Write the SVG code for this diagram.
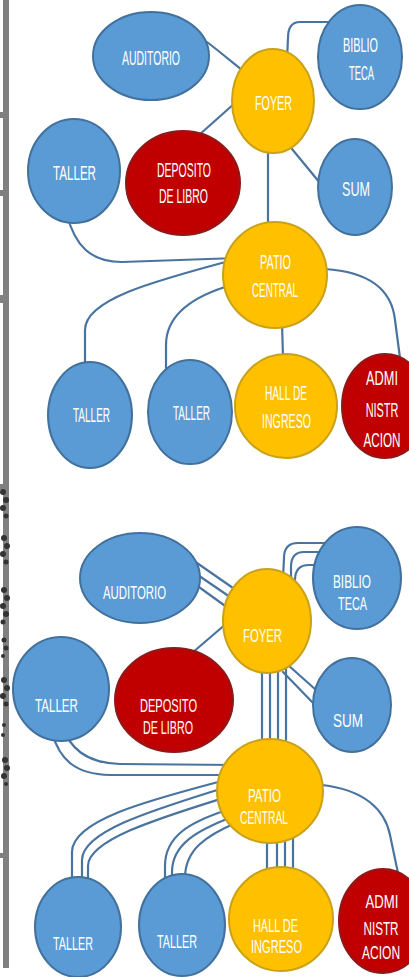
<svg xmlns="http://www.w3.org/2000/svg" width="409" height="977" viewBox="0 0 409 977">
<style>
.b{fill:#5B9BD5;stroke:#41719C;stroke-width:2}
.y{fill:#FFC000;stroke:#C9A21A;stroke-width:2}
.r{fill:#C00000;stroke:#8C1A1A;stroke-width:2}
.c path{fill:none;stroke:#4A74A0;stroke-width:2.2;stroke-linecap:round}
text{font-family:"Liberation Sans",Arial,sans-serif;fill:#FFFFFF;text-anchor:middle}
.t1{font-size:21px}
.t2{font-size:18px}
.edge{fill:#808080}
.tree{fill:#333333}
</style>
<rect width="409" height="977" fill="#FFFFFF"/>
<g id="page-edge">
<rect class="edge" x="3" y="0" width="6" height="968"/>
<rect class="edge" x="0" y="112" width="4" height="6"/>
<rect class="edge" x="0" y="190" width="4" height="6"/>
<rect class="edge" x="0" y="295" width="4" height="8"/>
<rect class="edge" x="0" y="484" width="4" height="6"/>
<rect class="edge" x="0" y="853" width="4" height="5"/>
<g class="tree">
<circle cx="3" cy="492" r="3"/><circle cx="6" cy="500" r="3"/><circle cx="3" cy="508" r="3"/><circle cx="6" cy="516" r="2.5"/>
<circle cx="4" cy="538" r="3"/><circle cx="7" cy="546" r="3"/><circle cx="3" cy="554" r="3"/><circle cx="6" cy="562" r="2.5"/>
<circle cx="4" cy="590" r="3"/><circle cx="7" cy="598" r="3"/><circle cx="3" cy="606" r="3"/><circle cx="6" cy="614" r="3"/><circle cx="3" cy="622" r="2.5"/>
<circle cx="4" cy="640" r="2.5"/><circle cx="6" cy="648" r="2.5"/><circle cx="3" cy="656" r="2"/>
<circle cx="4" cy="680" r="3"/><circle cx="7" cy="688" r="3"/><circle cx="3" cy="696" r="3"/><circle cx="6" cy="704" r="2.5"/>
<circle cx="4" cy="725" r="2"/><circle cx="3" cy="735" r="2"/>
<circle cx="5" cy="760" r="3"/><circle cx="7" cy="768" r="3"/><circle cx="4" cy="776" r="3"/><circle cx="6" cy="784" r="2"/>
</g>
</g>

<g id="connectors-top" class="c">
<path d="M207,42 C220,52 232,62 242,70"/>
<path d="M338,22 L300,22 Q288,22 288,38 L287,60"/>
<path d="M199,135 L235,103"/>
<path d="M292,149 L320,183"/>
<path d="M268,152 L268,230"/>
<path d="M67,215 C75,245 90,262 122,262 L237,258"/>
<path d="M233,260 C150,282 85,300 85,330 L85,363"/>
<path d="M225,287 C185,300 166,320 166,345 L166,380"/>
<path d="M282,323 L283,357"/>
<path d="M325,269 C372,272 392,292 395,320 L400,358"/>
</g>

<g id="connectors-bottom" class="c">
<path d="M197,563 L233,588"/>
<path d="M192,571 L230,597"/>
<path d="M192,582 L228,608"/>
<path d="M333,543 L298,543 Q284,543 284,558 L283,578"/>
<path d="M340,552 L304,552 Q291,552 291,567 L291,587"/>
<path d="M345,565 L309,565 Q295,565 295,580 L294,602"/>
<path d="M192,653 L227,623"/>
<path d="M288,665 L325,698"/>
<path d="M283,672 L316,706"/>
<path d="M262,670 L262,740"/>
<path d="M270,670 L270,740"/>
<path d="M278,670 L278,740"/>
<path d="M286,668 L286,740"/>
<path d="M52,733 C60,760 75,774 110,775 L228,775"/>
<path d="M60,723 C70,748 85,763 120,764 L237,765"/>
<path d="M222,781 C150,800 72,820 72,852 L72,878"/>
<path d="M230,786 C160,808 82,830 82,860 L82,885"/>
<path d="M233,795 C170,815 88,838 88,866 L88,893"/>
<path d="M227,810 C190,822 165,836 165,866 L165,903"/>
<path d="M232,817 C198,830 172,844 172,872 L172,908"/>
<path d="M238,822 C205,836 185,850 185,878 L185,910"/>
<path d="M267,835 L267,870"/>
<path d="M277,835 L277,870"/>
<path d="M285,835 L285,870"/>
<path d="M293,835 L293,868"/>
<path d="M322,785 C365,790 385,810 390,835 L398,873"/>
</g>

<!-- Top diagram -->
<g id="auditorio-1"><ellipse class="b" cx="151" cy="56" rx="58" ry="44"/><text class="t1" x="151" y="65" textLength="58" lengthAdjust="spacingAndGlyphs">AUDITORIO</text></g>
<g id="foyer-1"><ellipse class="y" cx="273" cy="101" rx="41" ry="52"/><text class="t1" x="273.5" y="110" textLength="37" lengthAdjust="spacingAndGlyphs">FOYER</text></g>
<g id="biblioteca-1"><ellipse class="b" cx="360" cy="57" rx="42" ry="52"/><text class="t1" x="360.5" y="52" textLength="35" lengthAdjust="spacingAndGlyphs">BIBLIO</text><text class="t1" x="361.5" y="80" textLength="25" lengthAdjust="spacingAndGlyphs">TECA</text></g>
<g id="taller-1a"><ellipse class="b" cx="74" cy="171" rx="46" ry="52"/><text class="t1" x="74.5" y="180" textLength="43" lengthAdjust="spacingAndGlyphs">TALLER</text></g>
<g id="deposito-1"><ellipse class="r" cx="183" cy="183" rx="57" ry="52"/><text class="t1" x="184" y="177" textLength="54" lengthAdjust="spacingAndGlyphs">DEPOSITO</text><text class="t1" x="183.5" y="203" textLength="49" lengthAdjust="spacingAndGlyphs">DE LIBRO</text></g>
<g id="sum-1"><ellipse class="b" cx="355" cy="187" rx="37" ry="48"/><text class="t1" x="356" y="196" textLength="28" lengthAdjust="spacingAndGlyphs">SUM</text></g>
<g id="patio-1"><ellipse class="y" cx="275" cy="275" rx="52" ry="53"/><text class="t1" x="275.5" y="269" textLength="31" lengthAdjust="spacingAndGlyphs">PATIO</text><text class="t1" x="275" y="297" textLength="46" lengthAdjust="spacingAndGlyphs">CENTRAL</text></g>
<g id="taller-1b"><ellipse class="b" cx="90" cy="415" rx="42" ry="53"/><text class="t1" x="91.5" y="422" textLength="37" lengthAdjust="spacingAndGlyphs">TALLER</text></g>
<g id="taller-1c"><ellipse class="b" cx="190" cy="412" rx="42" ry="52"/><text class="t1" x="191.5" y="420" textLength="37" lengthAdjust="spacingAndGlyphs">TALLER</text></g>
<g id="hall-1"><ellipse class="y" cx="286" cy="406" rx="51" ry="52"/><text class="t1" x="286" y="400" textLength="42" lengthAdjust="spacingAndGlyphs">HALL DE</text><text class="t1" x="286.5" y="428" textLength="49" lengthAdjust="spacingAndGlyphs">INGRESO</text></g>
<g id="admin-1"><ellipse class="r" cx="385" cy="406" rx="43" ry="52"/>
<text class="t1" transform="translate(382,385) scale(0.61,1)">ADMI</text>
<text class="t1" transform="translate(382,417) scale(0.52,1)">NISTR</text>
<text class="t1" transform="translate(382,447) scale(0.56,1)">ACION</text></g>

<!-- Bottom diagram -->
<g id="auditorio-2"><ellipse class="b" cx="140" cy="578" rx="60" ry="45"/><text class="t2" x="134.5" y="599" textLength="63" lengthAdjust="spacingAndGlyphs">AUDITORIO</text></g>
<g id="foyer-2"><ellipse class="y" cx="267" cy="621" rx="44" ry="52"/><text class="t2" x="262.5" y="642" textLength="39" lengthAdjust="spacingAndGlyphs">FOYER</text></g>
<g id="biblioteca-2"><ellipse class="b" cx="357" cy="578" rx="44" ry="51"/><text class="t2" x="352" y="588" textLength="38" lengthAdjust="spacingAndGlyphs">BIBLIO</text><text class="t2" x="352.5" y="610" textLength="29" lengthAdjust="spacingAndGlyphs">TECA</text></g>
<g id="taller-2a"><ellipse class="b" cx="61" cy="689" rx="48" ry="52"/><text class="t2" x="56.5" y="712" textLength="43" lengthAdjust="spacingAndGlyphs">TALLER</text></g>
<g id="deposito-2"><ellipse class="r" cx="174" cy="700" rx="59" ry="52"/><text class="t2" x="168.5" y="712" textLength="57" lengthAdjust="spacingAndGlyphs">DEPOSITO</text><text class="t2" x="168" y="734" textLength="50" lengthAdjust="spacingAndGlyphs">DE LIBRO</text></g>
<g id="sum-2"><ellipse class="b" cx="352" cy="705" rx="39" ry="47"/><text class="t2" x="348" y="727" textLength="30" lengthAdjust="spacingAndGlyphs">SUM</text></g>
<g id="patio-2"><ellipse class="y" cx="270" cy="791" rx="53" ry="52"/><text class="t2" x="264.5" y="802" textLength="33" lengthAdjust="spacingAndGlyphs">PATIO</text><text class="t2" x="264" y="824" textLength="48" lengthAdjust="spacingAndGlyphs">CENTRAL</text></g>
<g id="taller-2b"><ellipse class="b" cx="78" cy="927" rx="43" ry="50"/><text class="t2" x="73" y="950" textLength="40" lengthAdjust="spacingAndGlyphs">TALLER</text></g>
<g id="taller-2c"><ellipse class="b" cx="182" cy="925" rx="43" ry="51"/><text class="t2" x="177" y="948" textLength="40" lengthAdjust="spacingAndGlyphs">TALLER</text></g>
<g id="hall-2"><ellipse class="y" cx="281" cy="919" rx="52" ry="52"/><text class="t2" x="275.5" y="932" textLength="45" lengthAdjust="spacingAndGlyphs">HALL DE</text><text class="t2" x="276.5" y="953" textLength="51" lengthAdjust="spacingAndGlyphs">INGRESO</text></g>
<g id="admin-2"><ellipse class="r" cx="383" cy="921" rx="44" ry="52"/>
<text class="t2" transform="translate(382,908) scale(0.73,1)">ADMI</text>
<text class="t2" transform="translate(381,935) scale(0.65,1)">NISTR</text>
<text class="t2" transform="translate(381,959) scale(0.67,1)">ACION</text></g>
</svg>
